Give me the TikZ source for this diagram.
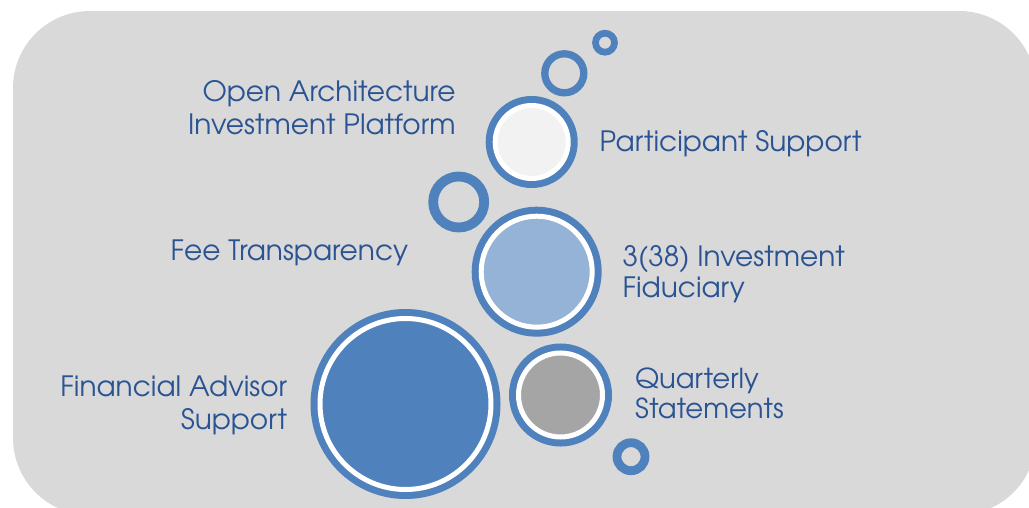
\documentclass[tikz,border=0pt]{standalone}
\usepackage{fontspec}
\setmainfont{TeX Gyre Adventor}
\definecolor{bgray}{HTML}{D9D9D9}
\definecolor{ringblue}{HTML}{4F81BD}
\definecolor{lightblue}{HTML}{95B3D7}
\definecolor{paleg}{HTML}{F2F2F2}
\definecolor{midgray}{HTML}{A5A5A5}
\definecolor{txtblue}{HTML}{2A5393}
\tikzset{
  bubble/.style={circle, inner sep=0pt, draw=white, line width=5pt,
    preaction={draw=ringblue, line width=19pt}},
  ring/.style={circle, inner sep=0pt, draw=ringblue},
  lbl/.style={text=txtblue, inner sep=0pt, font=\fontsize{28}{33}\selectfont},
  lblfid/.style={text=txtblue, inner sep=0pt, font=\fontsize{28}{31}\selectfont},
  lblq/.style={text=txtblue, inner sep=0pt, font=\fontsize{27.5}{30}\selectfont}
}
\begin{document}
\begin{tikzpicture}[x=1pt,y=-1pt]
\useasboundingbox (0,0) rectangle (1029,508);
\fill[bgray, rounded corners=77pt] (13,11) rectangle (1036,515);
% bubbles
\node[bubble, fill=ringblue, minimum size=171pt] (fas) at (405.5,404) {};
\node[bubble, fill=midgray, minimum size=84pt] (qsb) at (560.5,395) {};
\node[bubble, fill=lightblue, minimum size=111pt] (fidb) at (536.7,271.7) {};
\node[bubble, fill=paleg, minimum size=73pt] (psb) at (531.7,142) {};
% small rings
\node[ring, line width=7.3pt, minimum size=39pt] (ra) at (564.3,73.3) {};
\node[ring, line width=6.7pt, minimum size=19pt] (rb) at (605,42.7) {};
\node[ring, line width=9.8pt, minimum size=51pt] (rc) at (458.7,202) {};
\node[ring, line width=8.8pt, minimum size=28pt] (rd) at (631,456.7) {};
% labels (base anchor = last line baseline)
\node[lbl, align=right, anchor=base east] (open) at (455.7,135) {Open Architecture\\Investment Platform};
\node[lbl, anchor=base west] (part) at (599.3,151.7) {Participant Support};
\node[lblfid, align=left, anchor=base west] (fid) at (622.3,297.7) {3(38) Investment\\Fiduciary};
\node[lbl, anchor=base east] (fee) at (408.3,260) {Fee Transparency};
\node[lbl, align=right, anchor=base east] (fin) at (287.3,429) {Financial Advisor\\Support};
\node[lblq, align=left, anchor=base west] (qs) at (635,418.5) {Quarterly\\Statements};
\end{tikzpicture}
\end{document}
